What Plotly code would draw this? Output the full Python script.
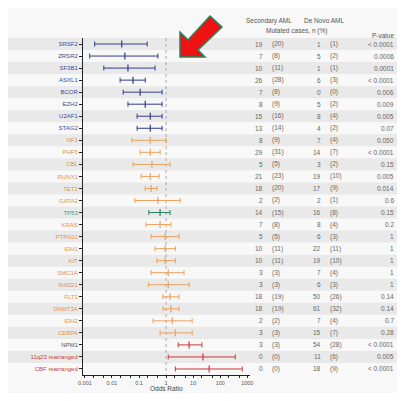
import plotly.graph_objects as go

genes = ["SRSF2", "ZRSR2", "SF3B1", "ASXL1", "BCOR", "EZH2", "U2AF1", "STAG2",
         "NF1", "PHF6", "CBL", "RUNX1", "TET2", "GATA2", "TP53", "KRAS", "PTPN11",
         "IDH1", "KIT", "SMC1A", "RAD21", "FLT3", "DNMT3A", "IDH2", "CEBPA", "NPM1",
         "11q23 rearranged", "CBF rearranged"]
groups = ["s"] * 8 + ["p"] * 6 + ["t"] + ["p"] * 10 + ["n", "r", "r"]
odds = [0.023, 0.030, 0.039, 0.060, 0.11, 0.17, 0.26, 0.26,
        0.26, 0.26, 0.30, 0.26, 0.28, 0.50, 0.60, 0.60, 0.92,
        0.92, 0.92, 1.2, 1.2, 1.4, 1.5, 1.7, 2.2, 7.1, 23, 39]
ci_low = [0.0023, 0.0015, 0.005, 0.020, 0.026, 0.039, 0.085, 0.085,
          0.055, 0.11, 0.06, 0.12, 0.17, 0.07, 0.23, 0.18, 0.28,
          0.39, 0.46, 0.28, 0.22, 0.77, 0.77, 0.33, 0.6, 2.8, 1.2, 2.2]
ci_high = [0.20, 0.50, 0.39, 0.17, 0.71, 0.71, 0.71, 0.71,
           1.0, 0.60, 1.4, 0.55, 0.46, 3.3, 1.4, 1.5, 3.0,
           2.2, 2.2, 4.6, 7.1, 3.0, 3.0, 9.2, 9.2, 21, 360, 650]
sec_n = [19, 7, 10, 26, 7, 8, 15, 13, 8, 29, 5, 21, 18, 2, 14, 7, 5,
         10, 10, 3, 3, 18, 18, 2, 3, 3, 0, 0]
sec_pct = [20, 8, 11, 28, 8, 9, 16, 14, 9, 31, 5, 23, 20, 2, 15, 8, 5,
           11, 11, 3, 3, 19, 19, 2, 3, 3, 0, 0]
dn_n = [1, 5, 1, 6, 0, 5, 8, 4, 7, 14, 3, 19, 17, 2, 16, 8, 6,
        22, 19, 7, 6, 50, 61, 7, 15, 54, 11, 18]
dn_pct = [1, 2, 1, 3, 0, 2, 4, 2, 4, 7, 2, 10, 9, 1, 8, 4, 3,
          11, 10, 4, 3, 26, 32, 4, 7, 28, 6, 9]
pvals = ["< 0.0001", "0.0006", "0.0001", "< 0.0001", "0.006", "0.009", "0.005", "0.07",
         "0.050", "< 0.0001", "0.15", "0.005", "0.014", "0.6", "0.15", "0.2", "1",
         "1", "1", "1", "1", "0.14", "0.14", "0.7", "0.28", "< 0.0001", "0.005", "< 0.0001"]
x_tick_vals = [0.001, 0.01, 0.1, 1, 10, 100, 1000]
x_tick_text = ["0.001", "0.01", "0.1", "1", "10", "100", "1000"]

bar_col = {"s": "#2e3c86", "p": "#e9a25e", "t": "#2b8163", "n": "#c8383a", "r": "#c8383a"}
lab_col = {"s": "#3d4b9a", "p": "#e6904a", "t": "#3a9a8a", "n": "#555555", "r": "#d0403c"}

OFF = 8  # page body margin
W, H = 405 - 2 * OFF, 401 - 2 * OFF
L, R, T, B = 83, 250, 38, 375  # window pixel coords of the plot area
n = len(genes)
rows = list(range(1, n + 1))

def px(xp):
    return (xp - L) / (R - L)

def py(yp):
    return 1 - (yp - T) / (B - T)

fig = go.Figure()

shapes = []
for i in rows:
    if i % 2 == 1:
        shapes.append(dict(type="rect", xref="paper", yref="y", x0=px(OFF), x1=px(OFF + W),
                           y0=i - 0.5, y1=i + 0.5, fillcolor="#e9e9e9",
                           line=dict(width=0), layer="below"))

fig.add_trace(go.Scatter(x=[1, 1], y=[0.5, n + 0.5], mode="lines",
                         line=dict(color="#aaaaaa", width=1, dash="dot"),
                         hoverinfo="skip", showlegend=False))

for g in ["s", "p", "t", "n", "r"]:
    idx = [k for k in range(n) if groups[k] == g]
    fig.add_trace(go.Scatter(
        x=[odds[k] for k in idx], y=[rows[k] for k in idx], mode="markers",
        marker=dict(symbol="line-ns", size=5, color=bar_col[g],
                    line=dict(width=1.2, color=bar_col[g])),
        error_x=dict(type="data", symmetric=False,
                     array=[ci_high[k] - odds[k] for k in idx],
                     arrayminus=[odds[k] - ci_low[k] for k in idx],
                     color=bar_col[g], thickness=1, width=2.5),
        showlegend=False))

ticktext = [f'<span style="color:{lab_col[groups[k]]}">{genes[k]}</span>' for k in range(n)]

annotations = []
tf = dict(family="Liberation Sans, Arial, sans-serif", size=6.5, color="#666666")
for k in range(n):
    y = rows[k]
    annotations += [
        dict(x=px(265), y=y, text=str(sec_n[k]), xanchor="right"),
        dict(x=px(270), y=y, text=f"({sec_pct[k]})", xanchor="left"),
        dict(x=px(323), y=y, text=str(dn_n[k]), xanchor="right"),
        dict(x=px(328), y=y, text=f"({dn_pct[k]})", xanchor="left"),
        dict(x=px(396), y=y, text=pvals[k], xanchor="right"),
    ]
for a in annotations:
    a.update(xref="paper", yref="y", showarrow=False, yanchor="middle", font=tf)

hf = dict(family="Liberation Sans, Arial, sans-serif", size=6.5, color="#555555")
head = [
    dict(x=px(269), y=py(21), text="Secondary AML", xanchor="center", yanchor="middle", font=hf),
    dict(x=px(324), y=py(21), text="De Novo AML", xanchor="center", yanchor="middle", font=hf),
    dict(x=px(296), y=py(31), text="Mutated cases, n (%)", xanchor="center", yanchor="middle", font=hf),
    dict(x=px(396), y=py(35), text="P-value", xanchor="right", yanchor="middle", font=hf),
    dict(x=px(166), y=py(393.5), text="Odds Ratio", xanchor="center", yanchor="bottom",
         font=dict(family="Liberation Sans, Arial, sans-serif", size=6.5, color="#444444")),
]
for a in head:
    a.update(xref="paper", yref="paper", showarrow=False)
annotations += head

# red arrow (window pixel coords)
pts = [(180, 57), (205, 57), (198, 50), (222, 27), (210, 16), (188, 40), (180, 32)]
path = "M " + " L ".join(f"{px(a):.4f},{py(b):.4f}" for a, b in pts) + " Z"
shapes.append(dict(type="path", xref="paper", yref="paper", path=path,
                   fillcolor="#ee1212", line=dict(color="#1e8a5c", width=1.5), layer="above"))

fig.update_layout(
    width=W, height=H,
    margin=dict(l=L - OFF, r=W - (R - OFF), t=T - OFF, b=H - (B - OFF), pad=0, autoexpand=False),
    paper_bgcolor="#f8f8f8", plot_bgcolor="rgba(0,0,0,0)",
    shapes=shapes, annotations=annotations,
    font=dict(family="Liberation Sans, Arial, sans-serif", size=7, color="#555555"),
    xaxis=dict(type="log", range=[-3.07, 3.1], tickvals=x_tick_vals, ticktext=x_tick_text,
               automargin=False,
               showgrid=False, zeroline=False, showline=True, linecolor="#222222", linewidth=1,
               ticks="outside", ticklen=2, tickcolor="#222222",
               minor=dict(ticks="outside", ticklen=2, tickcolor="#222222", showgrid=False),
               tickfont=dict(size=5.5, color="#555555")),
    yaxis=dict(range=[n + 0.5, 0.5], tickvals=rows, ticktext=ticktext,
               automargin=False,
               showgrid=False, zeroline=False, showline=True, linecolor="#222222", linewidth=1,
               ticks="outside", ticklen=3, tickcolor="#222222",
               tickfont=dict(size=6)),
)

fig.write_html("out.html")
